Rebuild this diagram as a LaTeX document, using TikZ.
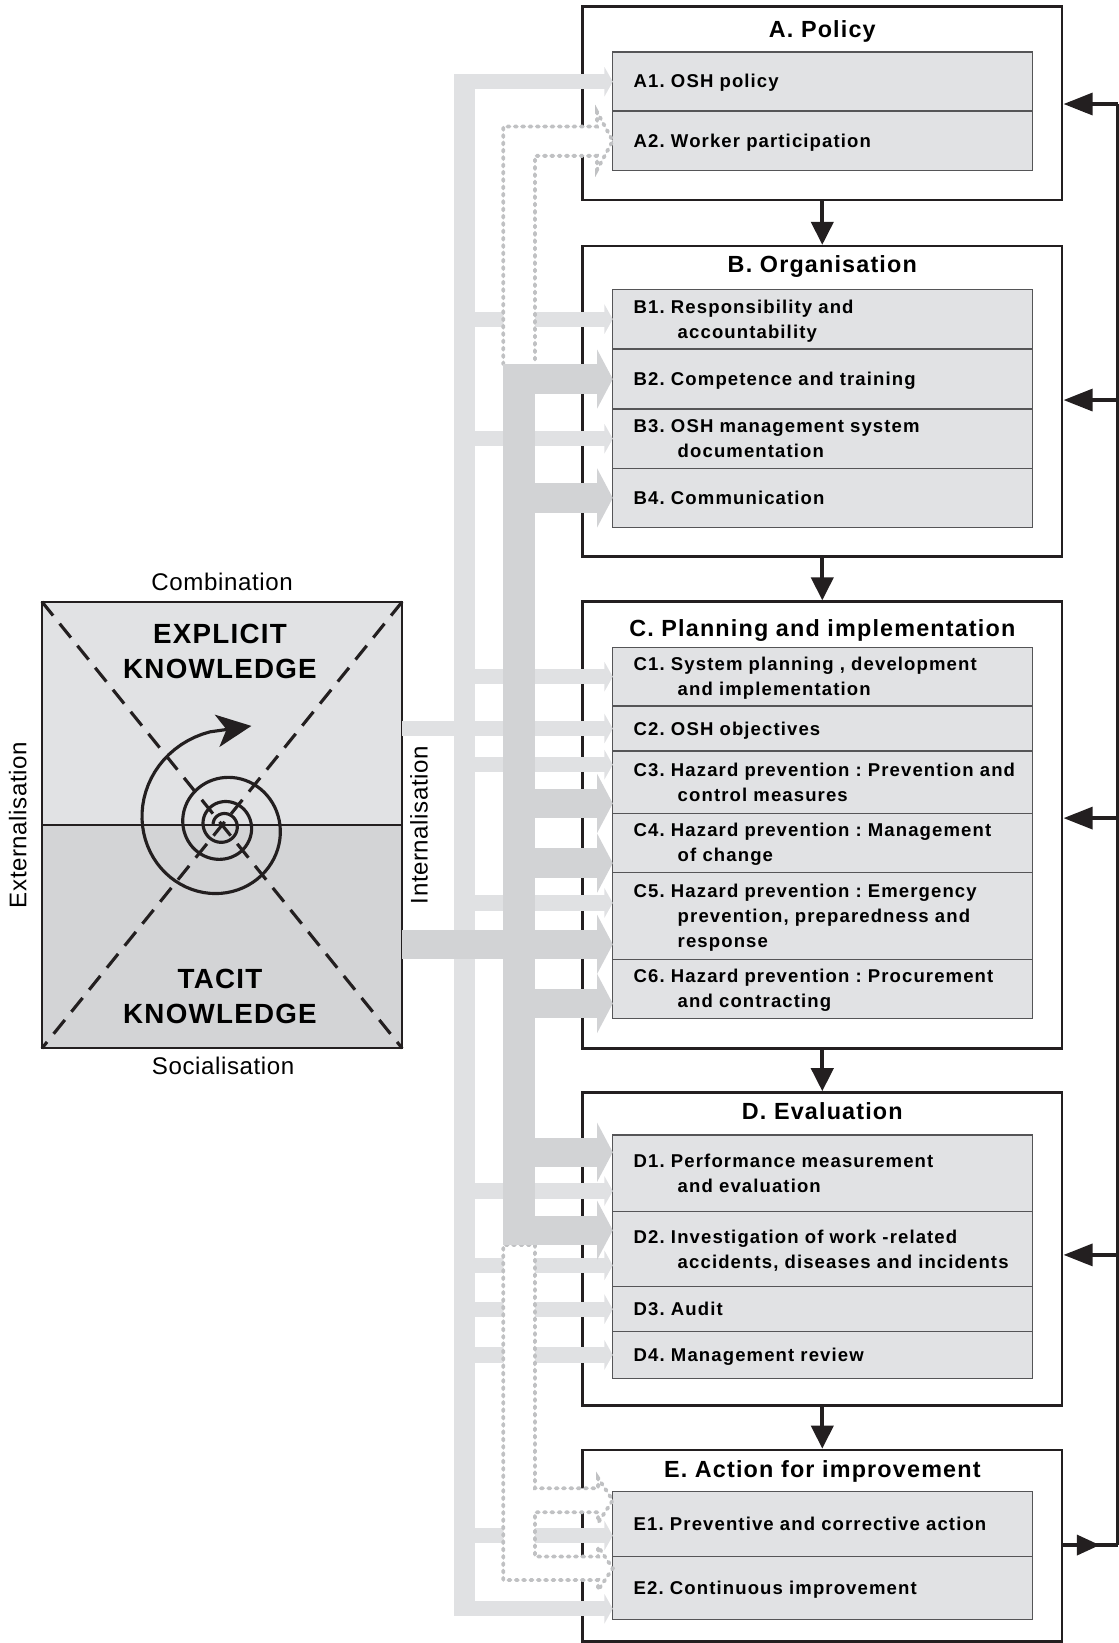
\documentclass[tikz,border=0pt]{standalone}
\usepackage{fontspec}
\usepackage{tikz}
\usetikzlibrary{arrows.meta,positioning}
\setmainfont{Liberation Sans}
\newfontfamily\titlefont[LetterSpace=5]{Liberation Sans}
\newfontfamily\itemfont[LetterSpace=6]{Liberation Sans}
\newfontfamily\knowfont[LetterSpace=4.5]{Liberation Sans}
\newfontfamily\modefont[LetterSpace=2.5]{Liberation Sans}
\frenchspacing
\definecolor{boxline}{RGB}{35,31,32}
\definecolor{itemline}{RGB}{85,85,87}
\definecolor{itemgray}{RGB}{225,226,228}
\definecolor{tacitgray}{RGB}{211,212,214}
\definecolor{lightflow}{RGB}{224,225,227}
\definecolor{darkflow}{RGB}{210,211,213}
\definecolor{dashflow}{RGB}{192,193,195}
\tikzset{
    outer-box/.style = {draw=boxline, line width=2.5pt, rectangle, minimum width=458pt, inner sep=0pt},
    outer-box-title/.style = {anchor=base, inner sep=0pt, font=\titlefont\bfseries\fontsize{22.3}{26}\selectfont},
    item-box/.style = {draw=itemline, line width=1.2pt, fill=itemgray, rectangle, outer sep=0pt, minimum width=400.5pt, text width=360.5pt, inner xsep=20pt, inner ysep=0pt, align=left, font=\itemfont\bfseries\fontsize{17.7}{24}\selectfont,
        execute at begin node={\rule[-3.3pt]{0pt}{19.3pt}}, execute at end node={\rule[-3.3pt]{0pt}{19.3pt}}},
    knowledge-box/.style = {draw=boxline, line width=2pt, rectangle, outer sep=0pt, minimum width=344pt, minimum height=426.4pt,
        path picture={\fill[itemgray] (path picture bounding box.north west) rectangle (path picture bounding box.east);
                      \fill[tacitgray] (path picture bounding box.west) rectangle (path picture bounding box.south east);}},
    knowledge-text/.style = {align=center, inner sep=0pt, font=\knowfont\bfseries\fontsize{26.5}{33.4}\selectfont},
    mode-label/.style = {inner sep=0pt, font=\modefont\fontsize{23}{27}\selectfont},
    knowledge-diagonal/.style = {draw=boxline, line width=3pt, dash pattern=on 17pt off 10pt},
    spiral-arrow/.style = {color=boxline, line width=3pt, -{Stealth[length=33pt,width=31pt,inset=9pt]}},
    light-bus/.style = {color=lightflow, line width=20.5pt},
    light-arrow/.style = {color=lightflow, line width=14.5pt, -{Triangle[length=8pt,width=28pt]}},
    dark-bus/.style = {color=darkflow, line width=30.2pt},
    dark-arrow/.style = {color=darkflow, line width=28pt, -{Triangle[length=15pt,width=56pt]}},
    hollow-arrow/.style = {draw=dashflow, fill=white, line width=3.6pt, line cap=round, dash pattern=on 2pt off 5pt},
    flow-arrow/.style = {color=boxline, line width=4pt, -{Triangle[length=22pt,width=21pt]}},
    feedback-line/.style = {color=boxline, line width=2.5pt},
    feedback-arrow/.style = {color=boxline, line width=3.8pt, -{Triangle[length=27.7pt,width=20.7pt]}},
}
\begin{document}
\begin{tikzpicture}[x=1pt, y=-1pt]
\useasboundingbox (0,0) rectangle (1068.2,1568.5);

\node[outer-box, minimum height=184.6pt] (A) at (785,98.7) {};
\node[outer-box, minimum height=296pt] (B) at (785,383) {};
\node[outer-box, minimum height=426.4pt] (C) at (785,787.6) {};
\node[outer-box, minimum height=299pt] (D) at (785,1192.5) {};
\node[outer-box, minimum height=182.8pt] (E) at (785,1475.6) {};

\node[outer-box-title] (A-title) at ([yshift=-30.9pt]A.north) {A. Policy};
\node[outer-box-title] (B-title) at ([yshift=-26.3pt]B.north) {B. Organisation};
\node[outer-box-title] (C-title) at ([yshift=-34.9pt]C.north) {C. Planning and implementation};
\node[outer-box-title] (D-title) at ([yshift=-27.3pt]D.north) {D. Evaluation};
\node[outer-box-title] (E-title) at ([yshift=-28pt]E.north) {E. Action for improvement};

\node[item-box, minimum height=56.4pt, anchor=north] (A1) at (785.25,49.6) {A1. OSH policy};
\node[item-box, minimum height=57pt, below=0pt of A1] (A2) {A2. Worker participation};

\node[item-box, minimum height=57pt, anchor=north] (B1) at (785.25,276.2) {B1. Responsibility and\\\hspace*{42pt}accountability};
\node[item-box, minimum height=57.3pt, below=0pt of B1] (B2) {B2. Competence and training};
\node[item-box, minimum height=56.6pt, below=0pt of B2] (B3) {B3. OSH management system\\\hspace*{42pt}documentation};
\node[item-box, minimum height=56.4pt, below=0pt of B3] (B4) {B4. Communication};

\node[item-box, minimum height=56pt, anchor=north] (C1) at (785.25,618) {C1. System planning , development\\\hspace*{42pt}and implementation};
\node[item-box, minimum height=43pt, below=0pt of C1] (C2) {C2. OSH objectives};
\node[item-box, minimum height=59.4pt, below=0pt of C2] (C3) {C3.~Hazard~prevention~:~Prevention~and\\\hspace*{42pt}control measures};
\node[item-box, minimum height=56.7pt, below=0pt of C3] (C4) {C4. Hazard prevention : Management\\\hspace*{42pt}of change};
\node[item-box, minimum height=82.7pt, below=0pt of C4] (C5) {C5. Hazard prevention : Emergency\\\hspace*{42pt}prevention, preparedness and\\\hspace*{42pt}response};
\node[item-box, minimum height=56.2pt, below=0pt of C5] (C6) {C6. Hazard prevention : Procurement\\\hspace*{42pt}and contracting};

\node[item-box, minimum height=73.2pt, anchor=north] (D1) at (785.25,1083.5) {D1. Performance measurement\\\hspace*{42pt}and evaluation};
\node[item-box, minimum height=71.6pt, below=0pt of D1] (D2) {D2. Investigation of work -related\\\hspace*{42pt}accidents,~diseases~and~incidents};
\node[item-box, minimum height=43pt, below=0pt of D2] (D3) {D3. Audit};
\node[item-box, minimum height=44.5pt, below=0pt of D3] (D4) {D4. Management review};

\node[item-box, minimum height=62pt, anchor=north] (E1) at (785.25,1424) {E1. Preventive and corrective action};
\node[item-box, minimum height=59.9pt, below=0pt of E1] (E2) {E2. Continuous improvement};

\node[knowledge-box] (K) at (212,787.6) {};
\draw[boxline, line width=1.5pt] (K.west) -- (K.east);
\draw[knowledge-diagonal] (K.north west) -- (K.south east);
\draw[knowledge-diagonal] (K.north east) -- (K.south west);
\draw[spiral-arrow] plot[domain=-900:262, samples=240, variable=\t] ({213+54.3*exp(0.001936*\t)*cos(\t)}, {788+54.3*exp(0.001936*\t)*sin(\t)}) -- (240,693);
\node[knowledge-text] (explicit) at ([xshift=-2pt,yshift=-47.6pt]K.north) {EXPLICIT\\KNOWLEDGE};
\node[knowledge-text] (tacit) at ([xshift=-2pt,yshift=49.6pt]K.south) {TACIT\\KNOWLEDGE};
\node[mode-label, anchor=base] (combination) at ([yshift=10.5pt]K.north) {Combination};
\node[mode-label, anchor=base] (socialisation) at ([xshift=1pt,yshift=-25.4pt]K.south) {Socialisation};
\node[mode-label, rotate=90] (externalisation) at ([xshift=-23pt]K.west) {Externalisation};
\node[mode-label, rotate=90] (internalisation) at ([xshift=16pt]K.east) {Internalisation};

\coordinate (lbus) at (443.25,70.75);
\coordinate (lbus-end) at (443.25,1543);
\draw[light-bus] (lbus) -- (lbus-end);
\foreach \rowname/\ypos in {A1/78, B1/304.7, B3/418.8, C1/646, C3/730, C5/862, D1/1137, D2/1208, D3/1249.8, D4/1293.5, E1/1466, E2/1535.8}
    \draw[light-arrow] (lbus |- 0,\ypos) -- (\rowname.west |- 0,\ypos);
\draw[light-arrow] (K.east |- C2.west) -- (C2.west);

\draw[hollow-arrow] (480.5,347.9) -- (480.5,120.8) -- (570,120.8) -- (570,107) -- (A2.west) -- (570,162) -- (570,148.8) -- (510.7,148.8) -- (510.7,347.9);
\draw[hollow-arrow] (510.7,1188.5) -- (510.7,1420.8) -- (571,1420.8) -- (571,1411) -- (E1.west |- 0,1432.3) -- (571,1453.6) -- (571,1443.7) -- (510.7,1443.7)
    -- (510.7,1486) -- (571,1486) -- (571,1476.5) -- (E2.west |- 0,1497.2) -- (571,1518) -- (571,1508.4) -- (480.5,1508.4) -- (480.5,1188.5) -- cycle;

\coordinate (dbus) at (495.6,347.9);
\coordinate (dbus-end) at (495.6,1188.5);
\draw[dark-bus] (dbus) -- (dbus-end);
\foreach \rowname/\ypos in {B2/361.9, B4/475.3, C3/767, C4/824, C6/958, D1/1100, D2/1174.5}
    \draw[dark-arrow] (dbus |- 0,\ypos) -- (\rowname.west |- 0,\ypos);
\draw[dark-arrow] (K.east |- 0,901.5) -- (C5.west |- 0,901.5);

\foreach \a/\b in {A/B, B/C, C/D, D/E}
    \draw[flow-arrow] (\a) -- (\b);

\coordinate (fb-top) at (1067,99.3);
\coordinate (fb-bot) at (1067,1475);
\draw[feedback-line] (fb-bot) -- (fb-top);
\draw[feedback-line, line width=3.8pt] (E.east |- fb-bot) -- (fb-bot);
\draw[feedback-arrow, -{Triangle[length=22pt,width=19pt]}, shorten >=17pt] (E.east |- fb-bot) -- (fb-bot);
\draw[feedback-arrow] (fb-top) -- (A.east |- fb-top);
\foreach \boxname/\ypos in {B/381.9, C/781, D/1198}
    \draw[feedback-arrow] (fb-top |- 0,\ypos) -- (\boxname.east |- 0,\ypos);
\end{tikzpicture}
\end{document}
